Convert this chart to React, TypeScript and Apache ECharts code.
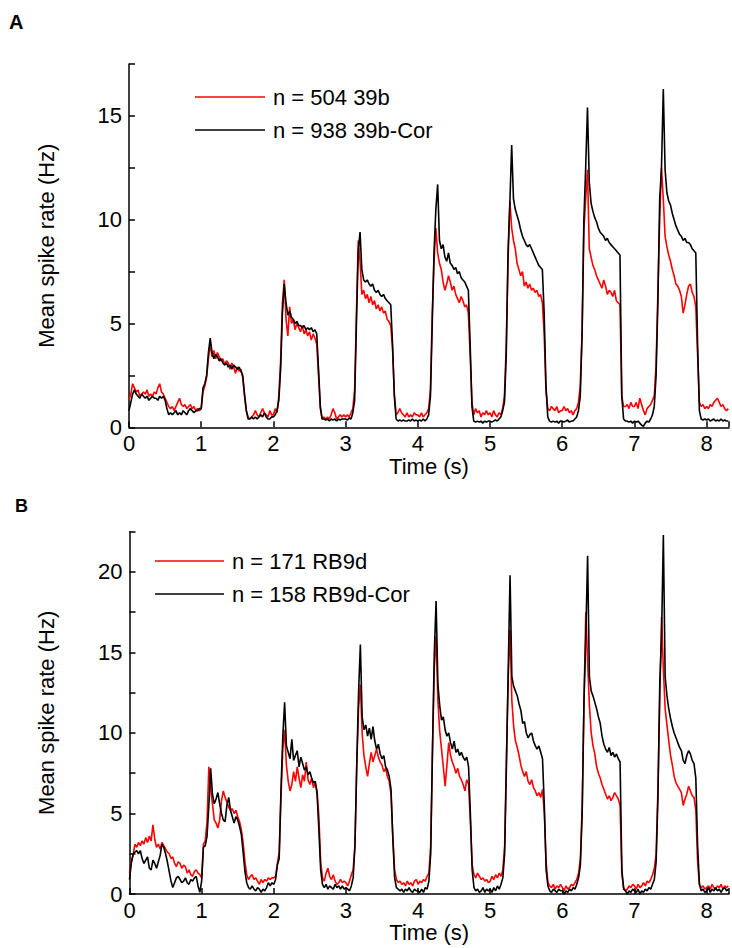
import React, { useEffect, useRef } from "react";
import * as echarts from "echarts";

// Sampling grid: 0 s to 8.3 s every 25 ms (333 samples)
const STEP_MS = 25;
const N_SAMPLES = 333;
const TIME: number[] = Array.from({ length: N_SAMPLES }, (_, i) => (i * STEP_MS) / 1000);

const X_TICKS = [0, 1, 2, 3, 4, 5, 6, 7, 8];
const NAME_A_RED = "n = 504 39b";
const NAME_A_BLACK = "n = 938 39b-Cor";
const NAME_B_RED = "n = 171 RB9d";
const NAME_B_BLACK = "n = 158 RB9d-Cor";

// Panel A, red (39b)
const A_RED: number[] = [
  1.3,1.6,2.1,1.9,1.7,1.8,1.5,1.6,1.7,1.6, 1.8,1.5,1.6,1.5,1.7,1.6,1.9,2.1,1.7,1.6, 1.4,1.2,1.0,0.9,1.0,0.8,1.0,1.2,1.4,1.1, 1.0,1.1,0.9,1.0,1.1,0.9,1.0,0.8,0.9,0.8,
  0.9,1.7,2.0,2.4,3.3,4.0,3.4,3.7,3.3,3.6, 3.4,3.2,3.3,3.0,3.2,3.1,2.8,3.1,2.9,2.6, 2.9,2.7,2.8,2.4,1.5,0.8,0.5,0.4,0.5,0.6, 0.8,0.6,0.5,0.7,0.9,0.7,0.6,0.5,0.8,0.6,
  0.6,0.9,0.7,1.5,3.2,6.0,7.1,5.2,4.4,5.8, 5.0,5.2,4.7,5.0,4.8,4.6,4.9,4.5,4.7,4.4, 4.6,4.2,4.5,4.3,4.0,2.5,0.9,0.4,0.5,0.4, 0.5,0.4,0.6,0.9,0.7,0.4,0.5,0.6,0.5,0.6,
  0.5,0.6,0.5,0.7,0.9,1.8,5.5,9.0,8.0,6.4, 6.6,6.2,6.4,6.0,6.3,5.9,6.1,5.7,5.9,5.6, 5.8,5.5,5.6,5.2,5.1,4.9,3.8,1.6,0.6,0.7, 0.9,0.7,0.6,0.5,0.7,0.5,0.6,0.5,0.7,0.6,
  0.6,0.5,0.7,0.5,0.6,0.7,0.9,1.8,5.5,8.0, 9.6,8.4,7.9,7.6,7.0,6.6,6.9,7.3,7.0,6.6, 6.8,6.4,6.2,6.0,6.3,6.1,5.8,5.9,5.5,3.5, 1.2,0.6,0.9,0.7,0.8,0.5,0.7,0.6,0.8,0.6,
  0.7,0.5,0.8,0.6,0.5,0.7,0.6,0.9,1.5,4.0, 8.0,10.9,9.6,9.0,8.6,7.9,7.6,7.3,7.5,6.8, 7.0,6.7,6.9,6.6,6.7,6.5,6.6,6.3,6.4,6.0, 4.5,1.8,0.9,0.8,1.0,0.9,0.8,1.0,0.7,0.8,
  0.8,1.0,0.8,0.9,0.7,0.8,0.6,0.8,0.9,1.2, 2.0,4.5,9.5,11.0,12.4,8.6,8.2,7.8,7.6,7.3, 7.1,6.9,6.7,7.1,6.8,6.4,6.6,6.5,6.3,6.6, 6.1,6.0,5.9,1.5,1.0,1.0,1.1,0.9,1.2,1.0,
  1.0,1.2,0.9,1.4,1.1,0.8,0.6,0.9,1.0,1.1, 1.3,1.5,3.0,6.5,10.0,12.5,11.0,9.2,8.7,8.3, 8.0,7.6,7.3,6.9,6.8,6.6,6.3,5.5,5.9,6.4, 6.8,6.9,6.5,6.3,5.8,3.5,1.2,1.0,1.1,0.9,
  1.0,0.9,1.1,1.0,1.2,1.3,1.4,1.2,1.0,1.1,0.9,0.8,0.9,
];

// Panel A, black (39b-Cor)
const A_BLACK: number[] = [
  0.8,1.2,1.6,1.8,1.6,1.5,1.4,1.6,1.5,1.4, 1.5,1.3,1.4,1.5,1.4,1.4,1.3,1.5,1.4,1.5, 1.3,0.9,0.6,0.7,0.6,0.7,0.8,0.6,0.7,0.6, 0.8,0.7,0.6,0.8,0.9,0.8,0.7,0.8,0.8,0.9,
  0.9,1.9,2.1,2.5,3.6,4.3,3.6,3.3,3.5,3.4, 3.2,3.3,3.1,3.0,3.1,2.9,3.0,2.8,3.0,2.9, 2.8,2.9,2.7,2.5,1.6,0.8,0.4,0.4,0.5,0.4, 0.5,0.4,0.5,0.6,0.5,0.7,0.5,0.4,0.4,0.5,
  0.5,0.6,0.8,1.3,2.8,5.5,6.9,6.0,5.4,5.6, 5.3,5.2,5.0,5.1,4.9,4.9,4.8,4.9,4.7,4.8, 4.7,4.8,4.6,4.7,4.5,2.8,1.0,0.4,0.4,0.35, 0.4,0.3,0.4,0.35,0.4,0.3,0.4,0.35,0.4,0.4,
  0.4,0.35,0.45,0.4,0.7,1.3,5.0,8.5,9.4,7.6, 7.1,7.0,7.1,6.9,6.8,6.9,6.6,6.5,6.6,6.4, 6.3,6.4,6.2,6.1,6.0,5.9,4.0,1.5,0.4,0.3, 0.35,0.3,0.35,0.3,0.3,0.35,0.3,0.4,0.3,0.35,
  0.3,0.35,0.3,0.4,0.3,0.4,0.6,1.5,5.0,8.5, 10.5,11.7,9.0,8.6,8.8,8.2,8.0,8.4,7.9,7.8, 7.6,7.7,7.4,7.5,7.2,7.1,7.0,6.8,6.6,4.0, 1.0,0.3,0.25,0.3,0.25,0.3,0.2,0.3,0.25,0.3,
  0.3,0.25,0.3,0.35,0.3,0.4,0.5,0.8,1.2,3.5, 8.5,10.8,13.6,11.0,10.5,10.2,9.9,9.5,9.2,9.0, 8.8,8.7,8.8,8.6,8.4,8.2,8.0,7.8,7.7,7.6, 5.5,2.0,0.5,0.3,0.25,0.3,0.25,0.3,0.2,0.3,
  0.3,0.25,0.3,0.35,0.25,0.3,0.3,0.4,0.5,0.8, 1.5,4.5,10.0,12.5,15.4,11.8,10.8,10.4,10.1,9.9, 9.6,9.4,9.3,9.2,9.0,9.1,8.9,8.8,8.7,8.6, 8.5,8.4,8.3,1.5,0.4,0.3,0.3,0.25,0.3,0.2,
  0.3,0.25,0.3,0.2,0.1,0.05,0.2,0.3,0.25,0.4, 0.6,1.0,2.5,6.0,11.0,12.5,16.3,12.4,11.3,10.9, 10.7,10.3,10.0,9.7,9.5,9.3,9.2,9.0,9.1,8.9, 8.9,8.8,8.6,8.5,8.4,4.0,0.8,0.4,0.35,0.4,
  0.35,0.4,0.3,0.35,0.4,0.3,0.35,0.3,0.4,0.3,0.35,0.3,0.3,
];

// Panel B, red (RB9d)
const B_RED: number[] = [
  1.3,2.0,2.4,3.1,2.9,3.2,3.0,3.3,3.1,3.5, 3.2,3.6,3.3,4.3,3.4,2.9,3.1,2.8,3.2,3.0, 2.8,2.6,2.5,2.2,2.3,1.9,1.7,2.0,1.9,1.6, 1.8,1.7,1.3,1.5,1.2,1.1,1.4,1.5,1.3,1.2,
  1.0,3.1,3.3,4.5,7.9,6.5,5.6,4.6,4.4,4.1, 4.6,5.8,6.4,6.0,5.7,5.4,5.2,5.3,5.0,5.2, 4.8,4.5,4.0,3.2,2.0,1.2,0.9,1.1,1.2,0.9, 1.0,0.8,0.6,0.9,0.7,0.9,0.8,1.0,0.9,1.0,
  1.0,1.1,1.9,2.6,6.0,9.0,10.2,8.0,7.0,6.4, 6.8,7.6,7.0,7.9,7.2,6.6,7.4,7.0,8.2,7.1, 6.8,7.2,6.6,6.9,6.4,4.8,2.0,1.0,0.8,1.3, 1.6,1.1,0.9,1.2,0.8,0.6,0.7,0.9,0.7,0.8,
  0.7,0.5,0.8,1.2,1.5,3.0,8.0,11.5,13.0,10.0, 8.6,7.9,7.3,8.1,8.8,8.2,8.6,9.0,8.5,8.2, 8.0,7.6,7.8,7.3,7.0,6.2,3.5,1.5,0.9,0.7, 0.8,0.6,0.7,0.5,0.8,0.6,0.7,0.5,0.8,0.9,
  0.6,0.8,0.7,0.9,0.8,1.1,1.3,3.0,9.0,14.0, 16.0,12.0,10.1,9.0,7.9,6.7,8.0,9.4,8.6,8.2, 7.9,7.5,7.8,7.3,7.1,6.8,6.4,7.1,6.8,4.5, 1.8,1.2,1.0,1.3,1.1,0.9,1.0,0.8,0.9,0.7,
  0.8,1.1,0.9,1.2,1.0,1.3,1.1,1.5,3.0,8.5, 13.5,16.4,12.0,10.4,9.5,9.1,8.6,8.0,7.6,7.3, 7.6,7.0,6.8,7.1,6.6,6.4,6.1,6.3,6.0,6.5, 5.0,2.0,0.7,0.5,0.4,0.6,0.3,0.5,0.4,0.6,
  0.4,0.2,0.5,0.3,0.4,0.6,0.5,0.7,0.9,1.3, 2.2,5.5,12.0,17.5,14.5,11.7,10.0,9.2,8.7,7.9, 7.5,7.2,6.8,6.5,6.2,5.9,6.1,5.8,6.0,6.3, 6.1,5.9,5.5,1.2,0.4,0.2,0.3,0.5,0.4,0.6,
  0.5,0.3,0.6,0.4,0.5,0.7,0.5,0.8,0.7,0.9, 1.2,1.6,2.5,6.5,12.0,17.2,14.0,11.5,10.5,9.5, 8.6,8.0,7.3,6.9,6.7,6.5,6.3,5.5,5.9,6.2, 6.7,6.4,6.1,6.0,5.2,2.0,0.6,0.4,0.5,0.3,
  0.4,0.5,0.3,0.6,0.4,0.3,0.5,0.4,0.6,0.3,0.5,0.4,0.5,
];

// Panel B, black (RB9d-Cor)
const B_BLACK: number[] = [
  0.9,1.9,2.5,2.6,2.7,2.5,2.7,2.2,1.9,2.1, 2.3,1.6,1.5,2.1,1.9,1.6,2.0,2.4,3.1,2.9, 2.5,2.0,1.4,0.8,0.4,0.7,1.0,1.1,0.9,0.7, 0.8,1.0,0.7,0.6,0.9,0.8,1.0,1.1,0.5,0.1,
  0.8,2.9,3.0,3.6,5.5,7.8,6.2,5.6,5.9,6.3, 5.6,5.0,4.6,4.5,5.5,6.0,5.2,4.8,4.4,4.8, 4.6,4.2,3.7,2.6,1.4,0.7,0.4,0.3,0.5,0.3, 0.2,0.4,0.3,0.1,0.3,0.2,0.4,0.7,0.5,0.7,
  0.6,0.9,1.8,2.2,6.5,9.8,11.9,9.2,8.8,8.4, 9.6,8.3,8.6,8.9,7.9,8.5,8.1,7.7,7.9,7.4, 7.6,7.2,6.9,7.0,6.2,4.0,1.5,0.6,0.4,0.6, 0.3,0.5,0.4,0.3,0.6,0.4,0.5,0.3,0.5,0.3,
  0.4,0.3,0.2,0.5,1.0,3.0,8.0,12.5,15.5,11.0, 10.2,10.5,9.8,10.3,9.6,10.4,9.5,9.0,9.3,8.7, 8.4,8.6,7.9,7.7,7.3,6.5,3.5,1.0,0.4,0.3, 0.2,0.3,0.1,0.3,0.2,0.4,0.2,0.1,0.3,0.2,
  0.2,0.1,0.3,0.1,0.4,0.3,0.8,2.5,9.0,15.0, 18.2,13.0,11.7,10.8,11.0,10.2,9.8,10.0,9.4,9.0, 9.5,8.8,9.0,8.6,8.8,8.5,8.3,8.5,7.9,5.0, 1.5,0.4,0.2,0.3,0.1,0.2,0.4,0.1,0.3,0.2,
  0.3,0.1,0.4,0.2,0.5,0.3,0.6,1.0,2.5,8.0, 14.0,19.8,13.5,12.9,12.6,12.3,11.8,11.4,10.6,10.7, 10.0,9.7,9.9,10.0,9.5,9.2,9.0,9.2,8.8,8.4, 5.5,1.5,0.5,0.2,0.1,0.3,0.2,0.1,0.3,0.2,
  0.2,0.0,0.2,0.1,0.3,0.2,0.4,0.3,0.6,1.0, 1.8,5.0,12.0,16.0,21.0,13.5,12.6,12.3,11.9,11.5, 11.0,10.6,9.8,9.3,9.0,8.8,9.1,8.6,8.8,8.5, 8.7,8.4,8.2,1.5,0.3,0.2,0.0,0.2,0.1,0.3,
  0.2,0.1,0.3,0.0,0.2,0.1,0.3,0.2,0.4,0.3, 0.6,0.9,2.0,6.0,13.0,16.0,22.3,13.5,12.3,11.5, 10.9,10.4,10.0,9.7,9.4,9.1,8.9,8.3,8.1,8.6, 8.9,8.7,8.3,8.1,7.2,3.0,0.6,0.2,0.3,0.1,
  0.2,0.4,0.1,0.3,0.2,0.4,0.2,0.3,0.1,0.3,0.4,0.2,0.3,
];

const FONT = "'Liberation Sans', Arial, sans-serif";

const pairs = (vals: number[]) => vals.map((v, i) => [TIME[i], v]);

function xAxisFor(gridIndex: number) {
  return {
    type: "value",
    gridIndex,
    min: 0,
    max: 8.31,
    interval: 1,
    name: "Time (s)",
    nameLocation: "middle",
    nameGap: 26,
    nameTextStyle: { fontSize: 22, color: "#000", fontFamily: FONT },
    axisLine: { show: true, onZero: false, lineStyle: { color: "#000", width: 1.5 } },
    axisTick: { show: true, inside: true, length: 6, lineStyle: { color: "#000", width: 1.5 } },
    axisLabel: {
      fontSize: 22,
      color: "#000",
      fontFamily: FONT,
      margin: 5,
      formatter: (v: number) => (X_TICKS.includes(v) ? String(v) : ""),
    },
    splitLine: { show: false },
  };
}

function yAxisFor(gridIndex: number, max: number) {
  return {
    type: "value",
    gridIndex,
    min: 0,
    max,
    interval: 2.5,
    name: "Mean spike rate (Hz)",
    nameLocation: "middle",
    nameGap: 72,
    nameTextStyle: { fontSize: 22, color: "#000", fontFamily: FONT },
    axisLine: { show: true, lineStyle: { color: "#000", width: 1.5 } },
    axisTick: { show: true, inside: true, length: 6, lineStyle: { color: "#000", width: 1.5 } },
    axisLabel: {
      fontSize: 22,
      color: "#000",
      fontFamily: FONT,
      margin: 7,
      formatter: (v: number) => (v % 5 === 0 ? String(v) : ""),
    },
    splitLine: { show: false },
  };
}

function lineSeries(name: string, vals: number[], color: string, idx: number) {
  return {
    name,
    type: "line",
    xAxisIndex: idx,
    yAxisIndex: idx,
    data: pairs(vals),
    showSymbol: false,
    symbol: "none",
    lineStyle: { color, width: 1.6 },
    itemStyle: { color },
    emphasis: { disabled: true },
  };
}

function legendFor(names: string[], left: number, top: number, width: number) {
  return {
    data: names,
    orient: "vertical",
    left,
    top,
    padding: 0,
    icon: "rect",
    itemWidth: width,
    itemHeight: 1.5,
    itemGap: 11,
    selectedMode: false,
    textStyle: { fontSize: 22, color: "#000", fontFamily: FONT, padding: [0, 0, 0, 3] },
  };
}

export default function App() {
  const ref = useRef<HTMLDivElement>(null);
  useEffect(() => {
    if (!ref.current) return;
    const chart = echarts.init(ref.current, undefined, { renderer: "svg" });
    chart.setOption({
      animation: false,
      backgroundColor: "#fff",
      textStyle: { fontFamily: FONT },
      grid: [
        { left: 129, top: 64, width: 603, height: 363.3 },
        { left: 129.5, top: 531.7, width: 602.5, height: 362.3 },
      ],
      xAxis: [xAxisFor(0), xAxisFor(1)],
      yAxis: [yAxisFor(0, 17.5), yAxisFor(1, 22.5)],
      legend: [
        legendFor([NAME_A_RED, NAME_A_BLACK], 195, 86, 70),
        legendFor([NAME_B_RED, NAME_B_BLACK], 155, 550, 69),
      ],
      graphic: [
        { type: "text", left: 9, top: 12, style: { text: "A", font: `bold 20px ${FONT}`, fill: "#000" } },
        { type: "text", left: 15, top: 497, style: { text: "B", font: `bold 18px ${FONT}`, fill: "#000" } },
      ],
      series: [
        lineSeries(NAME_A_RED, A_RED, "#ff0000", 0),
        lineSeries(NAME_A_BLACK, A_BLACK, "#000000", 0),
        lineSeries(NAME_B_RED, B_RED, "#ff0000", 1),
        lineSeries(NAME_B_BLACK, B_BLACK, "#000000", 1),
      ],
    });
    return () => chart.dispose();
  }, []);
  return (
    <div
      ref={ref}
      style={{ position: "absolute", left: 0, top: 0, width: 732, height: 948, background: "#fff" }}
    />
  );
}
